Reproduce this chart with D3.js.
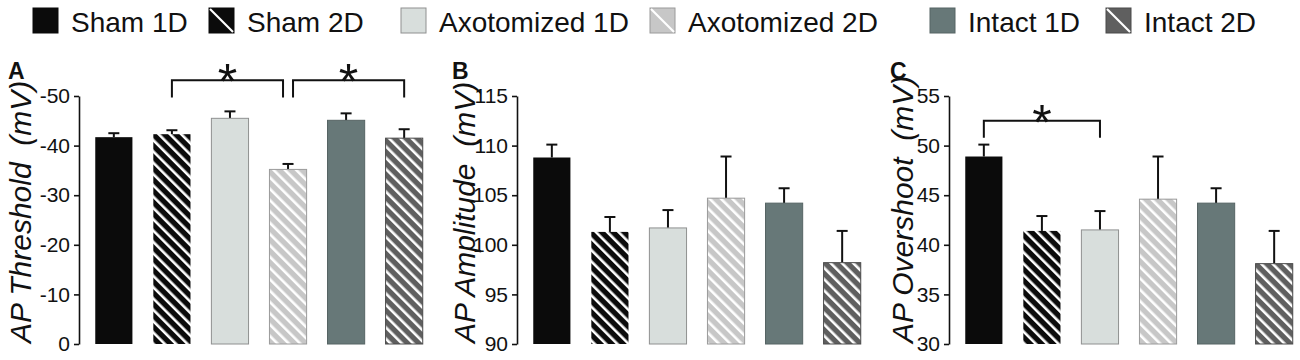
<!DOCTYPE html>
<html lang="en">
<head>
<meta charset="UTF-8">
<title>AP properties</title>
<script src="https://d3js.org/d3.v7.min.js"></script>
<style>
  body { margin: 0; background: #fff; }
  svg { display: block; background: #fff; font-family: "Liberation Sans", Arial, sans-serif; }
  .tick text { font-size: 21px; fill: #111; }
  .ylabel { font-size: 30px; font-style: italic; white-space: pre; fill: #111; }
  .letter { font-size: 23px; font-weight: bold; fill: #111; }
  .legend text { font-size: 28px; fill: #111; }
</style>
</head>
<body>
<svg id="chart" width="1300" height="360"></svg>
<script>
// groups
const groups = ["Sham 1D", "Sham 2D", "Axotomized 1D", "Axotomized 2D", "Intact 1D", "Intact 2D"];

// A: AP threshold (mV), mean and SEM
const thresholdMean = [-41.7, -42.3, -45.5, -35.2, -45.1, -41.5];
const thresholdErr  = [0.8, 0.8, 1.4, 1.1, 1.4, 1.8];
const thresholdTicks = [0, -10, -20, -30, -40, -50];

// B: AP amplitude (mV)
const amplitudeMean = [108.8, 101.3, 101.7, 104.7, 104.2, 98.2];
const amplitudeErr  = [1.3, 1.5, 1.8, 4.2, 1.5, 3.2];
const amplitudeTicks = [90, 95, 100, 105, 110, 115];

// C: AP overshoot (mV)
const overshootMean = [48.9, 41.4, 41.5, 44.6, 44.2, 38.1];
const overshootErr  = [1.2, 1.5, 1.9, 4.3, 1.5, 3.3];
const overshootTicks = [30, 35, 40, 45, 50, 55];

// significance brackets (group indices, bracket level and leg end in data units)
const thresholdSig = [
  { a: 1, b: 3, level: -53.2, leg: -49.7, offA: 0, offB: -5 },
  { a: 3, b: 5, level: -53.2, leg: -49.7, offA: 5, offB: 0 }
];
const amplitudeSig = [];
const overshootSig = [{ a: 0, b: 2, level: 52.5, leg: 50.8, offA: 0, offB: 0 }];

// look of each group
const groupStyle = {
  "Sham 1D":       { fill: "#0b0b0b", stripes: false, stroke: "none" },
  "Sham 2D":       { fill: "#0b0b0b", stripes: true,  stroke: "none" },
  "Axotomized 1D": { fill: "#d8dedc", stripes: false, stroke: "#8f9090" },
  "Axotomized 2D": { fill: "#c7c7c7", stripes: true,  stroke: "#9a9a9a" },
  "Intact 1D":     { fill: "#677878", stripes: false, stroke: "#566464" },
  "Intact 2D":     { fill: "#5f5f5f", stripes: true,  stroke: "#4a4a4a" }
};

const panels = [
  { letter: "A", label: "AP Threshold \u00a0(mV)", mean: thresholdMean, err: thresholdErr, ticks: thresholdTicks, sig: thresholdSig, axisX: 79,  labelX: 31 },
  { letter: "B", label: "AP Amplitude \u00a0(mV)", mean: amplitudeMean, err: amplitudeErr, ticks: amplitudeTicks, sig: amplitudeSig, axisX: 517, labelX: 475 },
  { letter: "C", label: "AP Overshoot \u00a0(mV)", mean: overshootMean, err: overshootErr, ticks: overshootTicks, sig: overshootSig, axisX: 949, labelX: 913 }
];

const legendX = [33, 209, 401, 650, 930, 1106];

const svg = d3.select("#chart");
const plotTop = 96, plotBottom = 344, plotW = 360;

const defs = svg.append("defs");
const fillOf = name => {
  const s = groupStyle[name];
  if (!s.stripes) return s.fill;
  return `url(#pat-${groups.indexOf(name)})`;
};
groups.forEach((name, i) => {
  const s = groupStyle[name];
  if (!s.stripes) return;
  const p = defs.append("pattern")
    .attr("id", `pat-${i}`)
    .attr("patternUnits", "userSpaceOnUse")
    .attr("width", 8).attr("height", 8)
    .attr("patternTransform", "rotate(-45)");
  p.append("rect").attr("width", 8).attr("height", 8).attr("fill", s.fill);
  p.append("rect").attr("width", 2.6).attr("height", 8).attr("fill", "#fff");
});

// legend
const legend = svg.append("g").attr("class", "legend");
groups.forEach((name, i) => {
  const s = groupStyle[name];
  const x = legendX[i];
  legend.append("rect")
    .attr("x", x).attr("y", 8).attr("width", 25).attr("height", 25)
    .attr("fill", s.fill)
    .attr("stroke", s.stroke === "none" ? s.fill : s.stroke).attr("stroke-width", 1);
  if (s.stripes) {
    legend.append("line")
      .attr("x1", x + 1).attr("y1", 9).attr("x2", x + 24).attr("y2", 32)
      .attr("stroke", "#fff").attr("stroke-width", 2.2);
  }
  legend.append("text").attr("x", x + 38).attr("y", 32).text(name);
});

panels.forEach(p => {
  const g = svg.append("g");
  const x = d3.scaleBand().domain(groups)
    .range([p.axisX, p.axisX + plotW])
    .paddingInner(0.36).paddingOuter(0.28);
  const dom = [p.ticks[0], p.ticks[p.ticks.length - 1]];
  const y = d3.scaleLinear().domain(dom).range([plotBottom, plotTop]);
  const dir = Math.sign(dom[1] - dom[0]);

  const rows = groups.map((name, i) => ({ name, mean: p.mean[i], err: p.err[i] }));

  // error bars (drawn under bars)
  const eb = g.append("g").attr("stroke", "#111").attr("stroke-width", 2);
  rows.forEach(d => {
    const cx = x(d.name) + x.bandwidth() / 2;
    const yt = y(d.mean + dir * d.err);
    eb.append("line").attr("x1", cx).attr("x2", cx).attr("y1", y(d.mean)).attr("y2", yt);
    eb.append("line").attr("x1", cx - 5.5).attr("x2", cx + 5.5).attr("y1", yt).attr("y2", yt);
  });

  g.append("g").selectAll("rect").data(rows).join("rect")
    .attr("x", d => x(d.name))
    .attr("width", x.bandwidth())
    .attr("y", d => Math.min(y(dom[0]), y(d.mean)))
    .attr("height", d => Math.abs(y(dom[0]) - y(d.mean)))
    .attr("fill", d => fillOf(d.name))
    .attr("stroke", d => groupStyle[d.name].stroke)
    .attr("stroke-width", 1);

  // y axis
  const ax = g.append("g")
    .attr("transform", `translate(${p.axisX},0)`)
    .call(d3.axisLeft(y).tickValues(p.ticks).tickFormat(d => `${d}`)
      .tickSize(5).tickSizeOuter(0).tickPadding(4));
  ax.select(".domain").attr("stroke", "#111").attr("stroke-width", 1.6);
  ax.selectAll(".tick line").attr("stroke", "#111").attr("stroke-width", 1.6);
  ax.attr("font-family", null).attr("font-size", null);

  g.append("text").attr("class", "ylabel")
    .attr("transform", `translate(${p.labelX},${plotBottom - 1}) rotate(-90)`)
    .text(p.label);

  g.append("text").attr("class", "letter")
    .attr("x", p.labelX - 23).attr("y", 79).text(p.letter);

  // significance brackets
  p.sig.forEach(s => {
    const xa = x(groups[s.a]) + x.bandwidth() / 2 + s.offA;
    const xb = x(groups[s.b]) + x.bandwidth() / 2 + s.offB;
    const yl = y(s.level), yg = y(s.leg);
    g.append("path")
      .attr("d", `M${xa},${yg}V${yl}H${xb}V${yg}`)
      .attr("fill", "none").attr("stroke", "#111").attr("stroke-width", 2);
    g.append("text")
      .attr("x", (xa + xb) / 2).attr("y", yl + 19)
      .attr("text-anchor", "middle").attr("font-size", 50).attr("fill", "#111")
      .text("*");
  });
});
</script>
</body>
</html>
